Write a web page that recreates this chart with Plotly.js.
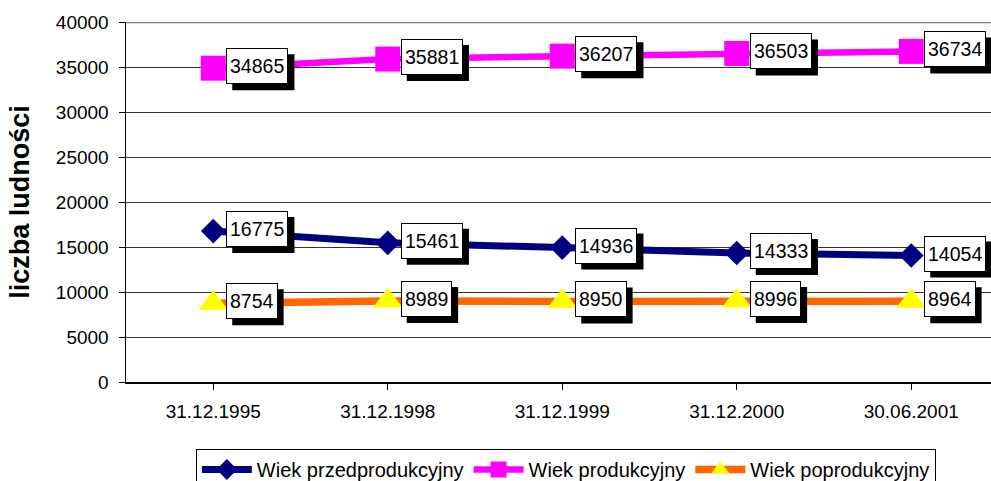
<!DOCTYPE html>
<html>
<head>
<meta charset="utf-8">
<script src="https://cdn.plot.ly/plotly-3.0.1.min.js"></script>
<style>html,body{margin:0;padding:0;background:#fff;}#chart{width:991px;height:481px;}</style>
</head>
<body>
<div id="chart"></div>
<script>
const categories = ["31.12.1995", "31.12.1998", "31.12.1999", "31.12.2000", "30.06.2001"];
const seriesNames = ["Wiek przedprodukcyjny", "Wiek produkcyjny", "Wiek poprodukcyjny"];
const przedprodukcyjny = [16775, 15461, 14936, 14333, 14054];
const produkcyjny = [34865, 35881, 36207, 36503, 36734];
const poprodukcyjny = [8754, 8989, 8950, 8996, 8964];
const yTicks = [0, 5000, 10000, 15000, 20000, 25000, 30000, 35000, 40000];

const FONT = "Liberation Sans, Arial, sans-serif";
const LABEL_SIZE = 19.5;
const xIdx = categories.map((c, i) => i);

const traces = [
  {x: xIdx, y: przedprodukcyjny, name: seriesNames[0], type: "scatter", mode: "lines+markers",
   line: {color: "#000080", width: 7}, marker: {symbol: "diamond", size: 19, color: "#000080"}},
  {x: xIdx, y: produkcyjny, name: seriesNames[1], type: "scatter", mode: "lines+markers",
   line: {color: "#FF00FF", width: 6.5}, marker: {symbol: "square", size: 25, color: "#FF00FF"}},
  {x: xIdx, y: poprodukcyjny, name: seriesNames[2], type: "scatter", mode: "lines+markers",
   line: {color: "#FF6600", width: 7.5}, marker: {symbol: "triangle-up", size: 26, color: "#FFFF00"}}
];

const annotations = [];
const shapes = [{type: "line", xref: "paper", yref: "y", x0: 0, x1: 1, y0: 40000, y1: 40000,
  line: {color: "#808080", width: 2.5}}];
const allSeries = [przedprodukcyjny, produkcyjny, poprodukcyjny];
allSeries.forEach(arr => {
  arr.forEach((v, i) => {
    const txt = String(v);
    const boxW = txt.length * 0.556 * LABEL_SIZE + 8;
    // drop shadow behind the label box
    shapes.push({type: "rect", layer: "above", xref: "x", yref: "y",
      xsizemode: "pixel", ysizemode: "pixel", xanchor: i, yanchor: v,
      x0: 13 + 6, x1: 13 + 6 + boxW, y0: -22, y1: 14,
      fillcolor: "#000", line: {width: 0}});
    annotations.push({x: i, y: v, xref: "x", yref: "y", text: txt, showarrow: false,
      xanchor: "left", yanchor: "middle", height: 28, valign: "middle",
      borderpad: 3, borderwidth: 1, xshift: 13, yshift: 2,
      bgcolor: "#fff", bordercolor: "#000", font: {family: FONT, size: LABEL_SIZE, color: "#000"}});
  });
});

const layout = {
  width: 991, height: 481,
  margin: {l: 126, r: 0, t: 22, b: 99, autoexpand: false},
  paper_bgcolor: "#fff", plot_bgcolor: "#fff",
  font: {family: FONT, size: 19, color: "#000"},
  showlegend: true,
  legend: {orientation: "h", xref: "container", yref: "container", x: 0.571, xanchor: "center",
    y: 0.0665, yanchor: "top",
    bordercolor: "#000", borderwidth: 1, bgcolor: "#fff",
    font: {family: FONT, size: 20, color: "#000"}, itemwidth: 50, tracegroupgap: 0},
  xaxis: {
    range: [-0.5, 4.457], tickmode: "array", tickvals: xIdx, ticktext: categories,
    tickson: "boundaries", ticks: "outside", ticklen: 6, tickcolor: "#000",
    showline: true, linecolor: "#000", linewidth: 1.5, showgrid: false, zeroline: false,
    tickfont: {family: FONT, size: 19, color: "#000"}, ticklabelstandoff: 6, fixedrange: true
  },
  yaxis: {
    range: [0, 40000], tickmode: "array", tickvals: yTicks, ticktext: yTicks.map(String),
    ticks: "outside", ticklen: 6, tickcolor: "#000",
    showline: true, linecolor: "#000", linewidth: 1.5,
    showgrid: true, gridcolor: "#333", gridwidth: 1, zeroline: false,
    tickfont: {family: FONT, size: 19, color: "#000"}, ticklabelstandoff: 6,
    title: {text: "<b>liczba ludności</b>", font: {family: FONT, size: 27, color: "#000"}, standoff: 18},
    fixedrange: true
  },
  shapes: shapes,
  annotations: annotations
};

Plotly.newPlot("chart", traces, layout, {displayModeBar: false, staticPlot: true});
</script>
</body>
</html>
